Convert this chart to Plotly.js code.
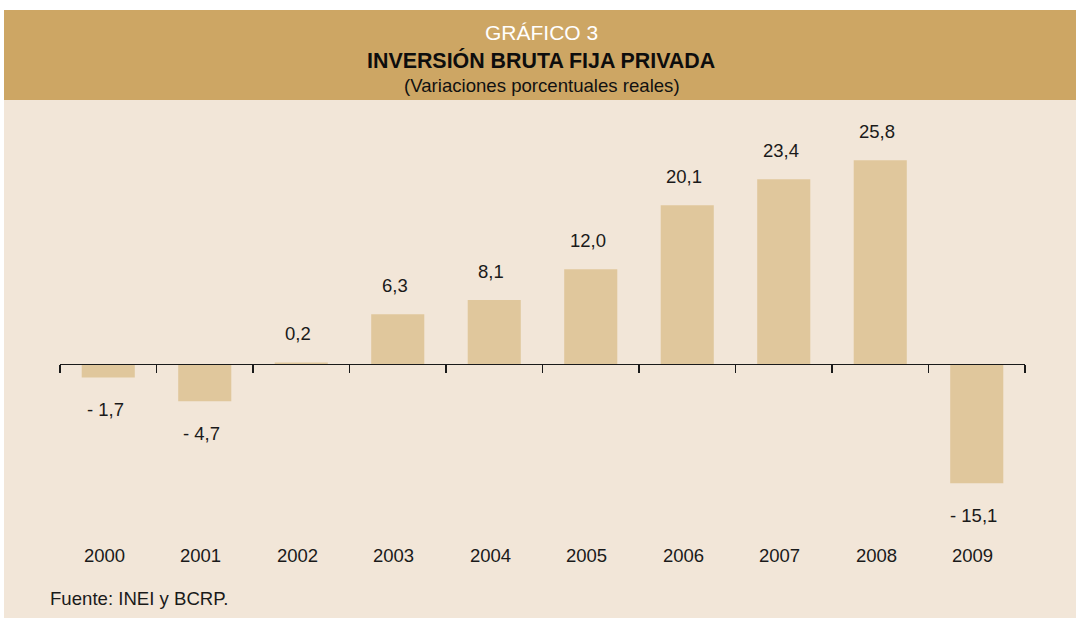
<!DOCTYPE html>
<html>
<head>
<meta charset="utf-8">
<script src="https://cdn.plot.ly/plotly-3.0.1.min.js"></script>
<style>
  html, body { margin: 0; padding: 0; background: #ffffff; }
  #chart { width: 1076px; height: 619px; }
</style>
</head>
<body>
<div id="chart"></div>
<script>
// ---- Data ----
const years = ["2000", "2001", "2002", "2003", "2004", "2005", "2006", "2007", "2008", "2009"];
const values = [-1.7, -4.7, 0.2, 6.3, 8.1, 12.0, 20.1, 23.4, 25.8, -15.1];
const chartLabel = "GRÁFICO 3";
const chartTitle = "INVERSIÓN BRUTA FIJA PRIVADA";
const chartSubtitle = "(Variaciones porcentuales reales)";
const sourceNote = "Fuente: INEI y BCRP.";

// ---- Layout geometry (pixels) ----
const W = 1076, H = 619;
const M = { l: 60, r: 51, t: 127, b: 97 };
const PW = W - M.l - M.r, PH = H - M.t - M.b;
const px2x = p => (p - M.l) / PW;
const py2y = p => (H - M.b - p) / PH;

const FONT = "Liberation Sans, Arial, Helvetica, sans-serif";
const TXT = "#1a1a1a";

function fmt(v) {
  const s = Math.abs(v).toFixed(1).replace(".", ",");
  return v < 0 ? "- " + s : s;
}

const trace = {
  type: "bar",
  x: years,
  y: values,
  width: 0.55,
  marker: { color: "#E0C79C", line: { width: 0 } },
  hoverinfo: "skip"
};

const annotations = [];
// value labels
years.forEach((yr, i) => {
  const v = values[i];
  annotations.push({
    x: i, y: v, xref: "x", yref: "y",
    text: fmt(v), showarrow: false,
    yshift: v < 0 ? -32 : 29, xshift: -3,
    font: { family: FONT, size: 18.5, color: TXT }
  });
});
// year labels
years.forEach((yr, i) => {
  annotations.push({
    x: i, y: py2y(555), xref: "x", yref: "paper",
    text: yr, showarrow: false, yanchor: "middle", xshift: -4,
    font: { family: FONT, size: 18.5, color: TXT }
  });
});
// header texts
annotations.push({
  x: px2x(541), y: py2y(32), xref: "paper", yref: "paper",
  text: chartLabel, showarrow: false, yanchor: "middle",
  font: { family: FONT, size: 21, color: "#ffffff" }
});
annotations.push({
  x: px2x(541), y: py2y(60), xref: "paper", yref: "paper",
  text: "<b>" + chartTitle + "</b>", showarrow: false, yanchor: "middle",
  font: { family: FONT, size: 21.4, color: "#0d0d0d" }
});
annotations.push({
  x: px2x(542), y: py2y(85), xref: "paper", yref: "paper",
  text: chartSubtitle, showarrow: false, yanchor: "middle",
  font: { family: FONT, size: 18.6, color: "#111111" }
});
// source note
annotations.push({
  x: px2x(48), y: py2y(598), xref: "paper", yref: "paper",
  text: sourceNote, showarrow: false, xanchor: "left", yanchor: "middle",
  font: { family: FONT, size: 18.6, color: TXT }
});

const shapes = [
  { type: "rect", xref: "paper", yref: "paper", layer: "below",
    x0: px2x(4), x1: px2x(1076), y0: py2y(618), y1: py2y(100),
    fillcolor: "#F2E6D8", line: { width: 0 } },
  { type: "rect", xref: "paper", yref: "paper", layer: "below",
    x0: px2x(4), x1: px2x(1076), y0: py2y(100), y1: py2y(10),
    fillcolor: "#CDA664", line: { width: 0 } }
];

const yMin = -20, yMax = 30;
const layout = {
  width: W, height: H,
  margin: M,
  paper_bgcolor: "#ffffff",
  plot_bgcolor: "rgba(0,0,0,0)",
  showlegend: false,
  bargap: 0.45,
  xaxis: {
    type: "category",
    range: [-0.5, years.length - 0.5],
    anchor: "free",
    position: (0 - yMin) / (yMax - yMin),
    showline: true, linecolor: "#1a1a1a", linewidth: 1.4,
    ticks: "outside", tickson: "boundaries", ticklen: 8,
    tickcolor: "#1a1a1a", tickwidth: 1.8,
    showticklabels: false, showgrid: false, zeroline: false,
    fixedrange: true
  },
  yaxis: {
    range: [yMin, yMax],
    visible: false, showgrid: false, zeroline: false,
    fixedrange: true
  },
  shapes: shapes,
  annotations: annotations
};

Plotly.newPlot("chart", [trace], layout, { displayModeBar: false, staticPlot: true });
</script>
</body>
</html>
